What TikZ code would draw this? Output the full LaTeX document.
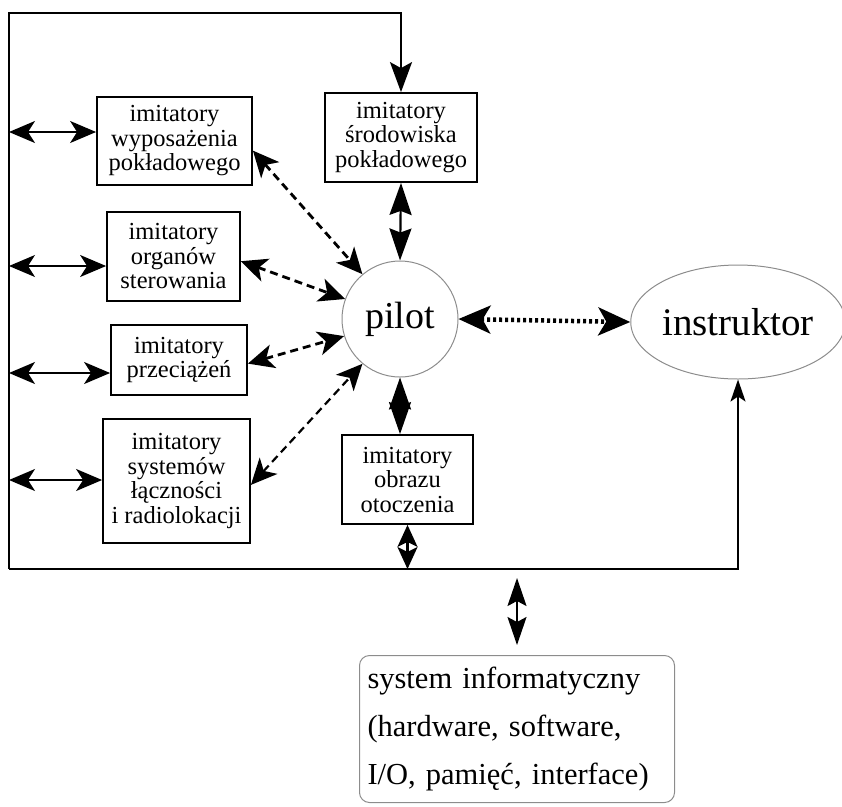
\documentclass[tikz,border=0pt]{standalone}
\usepackage{fontspec}
\setmainfont{Liberation Serif}
\usepackage{tikz}
\usetikzlibrary{arrows.meta,calc,positioning,shapes.geometric}
\definecolor{bordogrigio}{RGB}{140,140,140}

\begin{document}
\begin{tikzpicture}[x=1pt, y=-1pt,
    blocco/.style={draw, line width=1.8pt, align=center, inner sep=0pt,
        font=\fontsize{24.5}{24.5}\selectfont},
    frecciasx/.style={line width=1.8pt, {Stealth[length=26pt,width=22pt,inset=7pt]}-{Stealth[length=26pt,width=22pt,inset=7pt]}},
    tratteggio/.style={line width=2.8pt, dash pattern=on 8pt off 5pt,
        {Stealth[length=26pt,width=24pt,inset=7pt]}-{Stealth[length=26pt,width=24pt,inset=7pt]}},
    verticale/.style={line width=2.2pt, {Stealth[length=32pt,width=22pt,inset=4pt]}-{Stealth[length=32pt,width=22pt,inset=4pt]}}]
    \useasboundingbox (0,0) rectangle (842,806);

    % Blocchi degli imitatori (sinistra)
    \node[blocco, minimum width=155, minimum height=88] (wypos) at (174.5,141)
        {imitatory\\wyposażenia\\pokładowego};
    \node[blocco, minimum width=133, minimum height=89] (organy) at (173.5,256.5)
        {imitatory\\organów\\sterowania};
    \node[blocco, minimum width=136, minimum height=70] (przec) at (179,360)
        {imitatory\\przeciążeń};
    \node[blocco, minimum width=147, minimum height=124] (lacznosc) at (176.5,481)
        {imitatory\\systemów\\łączności\\i radiolokacji};

    % Blocchi centrali, pilota e istruttore
    \node[blocco, minimum width=152, minimum height=89] (srod) at (401,137.5)
        {imitatory\\środowiska\\pokładowego};
    \node[blocco, minimum width=131, minimum height=89] (obraz) at (407.5,479.5)
        {imitatory\\obrazu\\otoczenia};
    \node[circle, draw=bordogrigio, line width=1pt, minimum size=116, inner sep=0pt,
        font=\fontsize{38}{40}\selectfont] (pilot) at (400,319) {pilot};
    \node[ellipse, draw=bordogrigio, line width=1pt, minimum width=206, minimum height=114,
        inner sep=0pt, font=\fontsize{39}{40}\selectfont] (instr) at (738,322) {instruktor};

    % Sistema informatico (riquadro arrotondato)
    \node[draw=bordogrigio, line width=1pt, rounded corners=10pt, align=left,
        text width=299, minimum height=147, inner sep=8pt, anchor=north,
        font=\fontsize{30.5}{48}\selectfont] (sysinfo) at (517,655)
        {system informatyczny\\(hardware, software,\\I/O, pamięć, interface)};

    % Cornice esterna (bus comune)
    \coordinate (tl) at (9,13);
    \coordinate (bl) at (9,569);
    \draw[line width=2pt, -{Stealth[length=30pt,width=22pt,inset=6pt]}]
        (bl) -- (tl) -| (srod.north);
    \draw[line width=2pt, -{Stealth[length=22pt,width=15pt,inset=5pt]}]
        (bl) -| (instr.south);

    % Collegamenti cornice - imitatori
    \coordinate (f1) at (9,132);
    \coordinate (f2) at (9,266);
    \coordinate (f3) at (9,373);
    \coordinate (f4) at (9,480);
    \draw[frecciasx] (f1) -- (f1 -| wypos.west);
    \draw[frecciasx, line width=1.2pt] (f2) -- (f2 -| organy.west);
    \draw[frecciasx] (f3) -- (f3 -| przec.west);
    \draw[frecciasx] (f4) -- (f4 -| lacznosc.west);

    % Interazioni del pilota (tratteggiate)
    \draw[tratteggio] (wypos.-7) -- (pilot.130);
    \draw[tratteggio] (organy.-4) -- (pilot.160);
    \draw[tratteggio] (przec.-3) -- (pilot.197);
    \draw[tratteggio, line width=2.2pt] (lacznosc.-3) -- (pilot.230);

    % Collegamenti verticali
    \draw[verticale] (srod.south) -- (pilot.north);
    \draw[verticale] (pilot.south) -- (pilot.south |- obraz.north);
    \draw[line width=2.2pt, {Stealth[length=22pt,width=20pt,inset=5pt]}-{Stealth[length=22pt,width=20pt,inset=5pt]}]
        (obraz.south) -- (obraz.south |- bl);
    \draw[line width=1.8pt, shorten <=9pt, shorten >=10pt,
        {Stealth[length=28pt,width=19pt,inset=5pt]}-{Stealth[length=28pt,width=19pt,inset=5pt]}]
        (sysinfo.north |- bl) -- (sysinfo.north);

    % Pilota - istruttore (punteggiato)
    \draw[line width=4.5pt, dash pattern=on 3pt off 3pt,
        {Stealth[length=32pt,width=28pt,inset=8pt]}-{Stealth[length=32pt,width=28pt,inset=8pt]}]
        (pilot.east) -- (instr.west);
\end{tikzpicture}
\end{document}
